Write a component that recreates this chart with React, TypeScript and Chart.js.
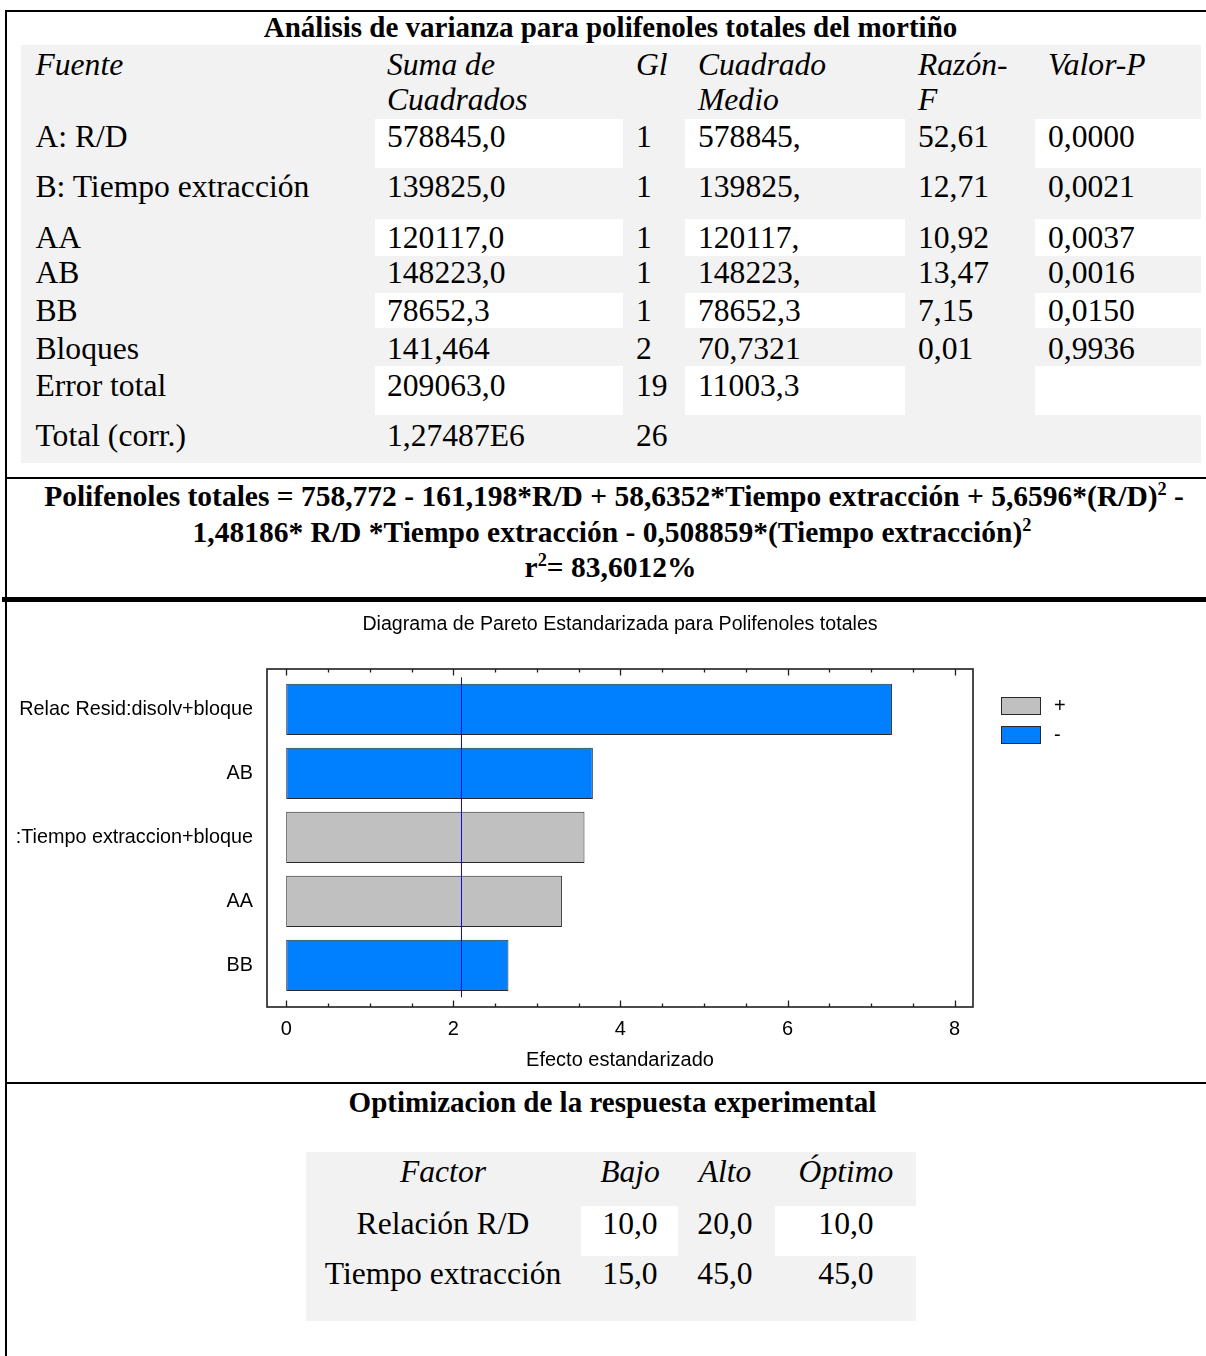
import React, { useEffect, useRef } from "react";
import { Chart, registerables } from "chart.js";

Chart.register(...registerables);

// ---------------- ANOVA table ----------------
const anovaTitle = "Análisis de varianza para polifenoles totales del mortiño";
const anovaHeadTop = ["Fuente", "Suma de", "Gl", "Cuadrado", "Razón-", "Valor-P"];
const anovaHeadBottom = ["", "Cuadrados", "", "Medio", "F", ""];
const anovaSources = ["A: R/D", "B: Tiempo extracción", "AA", "AB", "BB", "Bloques", "Error total", "Total (corr.)"];
const anovaSumSq = ["578845,0", "139825,0", "120117,0", "148223,0", "78652,3", "141,464", "209063,0", "1,27487E6"];
const anovaDf = ["1", "1", "1", "1", "1", "2", "19", "26"];
const anovaMeanSq = ["578845,", "139825,", "120117,", "148223,", "78652,3", "70,7321", "11003,3", ""];
const anovaFRatio = ["52,61", "12,71", "10,92", "13,47", "7,15", "0,01", "", ""];
const anovaPValue = ["0,0000", "0,0021", "0,0037", "0,0016", "0,0150", "0,9936", "", ""];

// ---------------- fitted model ----------------
const eqLine1 = "Polifenoles totales = 758,772 - 161,198*R/D + 58,6352*Tiempo extracción + 5,6596*(R/D)";
const eqLine1Tail = " -";
const eqLine2 = "1,48186* R/D *Tiempo extracción - 0,508859*(Tiempo extracción)";
const r2Symbol = "r";
const r2Text = "= 83,6012%";

// ---------------- Pareto chart ----------------
const paretoTitle = "Diagrama de Pareto Estandarizada para Polifenoles totales";
const paretoAxisTitle = "Efecto estandarizado";
const paretoTerms = ["Relac Resid:disolv+bloque", "AB", "B:Tiempo extraccion+bloque", "AA", "BB"];
const paretoEffects = [7.25, 3.67, 3.57, 3.3, 2.66];
const paretoSigns = ["-", "-", "+", "+", "-"];
const criticalEffect = 2.093;
const legendSigns = ["+", "-"];
const xMajorTicks = [0, 2, 4, 6, 8];
const xAllTicks = [0, 0.5, 1, 1.5, 2, 2.5, 3, 3.5, 4, 4.5, 5, 5.5, 6, 6.5, 7, 7.5, 8];
const signColors: Record<string, string> = { "+": "#c0c0c0", "-": "#0080ff" };

// ---------------- optimization table ----------------
const optTitle = "Optimizacion de la respuesta experimental";
const optHeader = ["Factor", "Bajo", "Alto", "Óptimo"];
const optFactors = ["Relación R/D", "Tiempo extracción"];
const optLow = ["10,0", "15,0"];
const optHigh = ["20,0", "45,0"];
const optOptimum = ["10,0", "45,0"];

// ---------------- layout (positions only) ----------------
const SERIF = '"Liberation Serif", "Times New Roman", Times, serif';
const SANS = '"Liberation Sans", Arial, Helvetica, sans-serif';
const BODY = 31.6;
const BOLD = 29;
const anovaColX = [35.5, 387, 636, 698, 918, 1048];
const anovaRowY = [137, 187, 238, 273, 311, 349, 386, 436];
const anovaWhiteRows = [[119, 168], [219, 256], [293, 328], [366, 415]];
const anovaWhiteCols = [[375, 623], [685, 905], [1035, 1201]];
const optColX = [443, 630, 725, 846];
const optRowY = [1224.5, 1274.5];
const optWhiteCols = [[581, 678], [774.5, 916]];
const CANVAS_LEFT = 17;
const CANVAS_TOP = 603;
const CANVAS_W = 1206 - CANVAS_LEFT;
const CANVAS_H = 477;
const PLOT_LEFT = 267; // page x
const PLOT_RIGHT = 973; // page x

type TxtProps = {
  x: number;
  y: number;
  size?: number;
  italic?: boolean;
  bold?: boolean;
  center?: boolean;
  children: React.ReactNode;
};

function Txt({ x, y, size = BODY, italic, bold, center, children }: TxtProps) {
  return (
    <div
      style={{
        position: "absolute",
        left: x,
        top: y - size * 0.5065,
        fontSize: size,
        lineHeight: `${size}px`,
        fontStyle: italic ? "italic" : "normal",
        fontWeight: bold ? 700 : 400,
        whiteSpace: "nowrap",
        transform: center ? "translateX(-50%)" : undefined,
      }}
    >
      {children}
    </div>
  );
}

function Sup({ children }: { children: React.ReactNode }) {
  return (
    <span style={{ fontSize: "0.62em", position: "relative", top: "-0.6em", lineHeight: 0 }}>{children}</span>
  );
}

function Box({ x, y, w, h, bg }: { x: number; y: number; w: number; h: number; bg: string }) {
  return <div style={{ position: "absolute", left: x, top: y, width: w, height: h, background: bg }} />;
}

const paretoDecor = {
  id: "paretoDecor",
  afterDatasetsDraw(chart: any) {
    const { ctx, chartArea: a, scales } = chart;
    const xs = scales.x;
    const ys = scales.y;
    ctx.save();
    // critical value line
    const cx = Math.round(xs.getPixelForValue(criticalEffect)) + 0.5;
    ctx.strokeStyle = "#0a0aff";
    ctx.lineWidth = 1;
    ctx.beginPath();
    ctx.moveTo(cx, ys.getPixelForValue(-0.5));
    ctx.lineTo(cx, ys.getPixelForValue(paretoTerms.length - 0.5));
    ctx.stroke();
    // frame
    ctx.strokeStyle = "#1e1e1e";
    ctx.lineWidth = 1.6;
    ctx.strokeRect(a.left, a.top, a.right - a.left, a.bottom - a.top);
    // inward tick marks, top and bottom
    ctx.lineWidth = 1.3;
    xs.ticks.forEach((t: any) => {
      const px = Math.round(xs.getPixelForValue(t.value)) + 0.5;
      const len = xMajorTicks.includes(t.value) ? 6.5 : 3.5;
      ctx.beginPath();
      ctx.moveTo(px, a.bottom);
      ctx.lineTo(px, a.bottom - len);
      ctx.moveTo(px, a.top);
      ctx.lineTo(px, a.top + len);
      ctx.stroke();
    });
    // legend
    const lx = a.right + 28;
    ctx.font = `20px ${SANS}`;
    ctx.textBaseline = "middle";
    ctx.textAlign = "left";
    legendSigns.forEach((s, i) => {
      const ly = a.top + 28 + i * 29;
      ctx.fillStyle = signColors[s];
      ctx.fillRect(lx, ly, 40, 18);
      ctx.strokeStyle = "#2a2a2a";
      ctx.lineWidth = 1;
      ctx.strokeRect(lx + 0.5, ly + 0.5, 39, 17);
      ctx.fillStyle = "#000";
      ctx.fillText(s, lx + 40 + 13, ly + 9.5);
    });
    ctx.restore();
  },
};

function ParetoChart() {
  const ref = useRef<HTMLCanvasElement | null>(null);
  useEffect(() => {
    if (!ref.current) return;
    const tickFont = { family: SANS, size: 20, weight: "normal" as const };
    const chart = new Chart(ref.current, {
      type: "bar",
      data: {
        datasets: [
          {
            data: paretoTerms.map((_, i) => ({ x: paretoEffects[i], y: i })),
            backgroundColor: paretoSigns.map((s) => signColors[s]),
            borderColor: "#2a2a2a",
            borderWidth: 1,
            borderSkipped: false,
            barPercentage: 0.8,
            categoryPercentage: 1,
          },
        ],
      },
      options: {
        indexAxis: "y",
        animation: false,
        responsive: false,
        maintainAspectRatio: false,
        events: [],
        layout: { padding: { left: 0, right: CANVAS_W - (PLOT_RIGHT - CANVAS_LEFT), top: 0, bottom: 0 } },
        plugins: {
          legend: { display: false },
          tooltip: { enabled: false },
          title: {
            display: true,
            text: paretoTitle,
            fullSize: false,
            color: "#000",
            font: { family: SANS, size: 19.6, weight: "normal" },
            padding: { top: 10.24, bottom: 32.24 },
          },
        },
        scales: {
          x: {
            type: "linear",
            position: "bottom",
            bounds: "data",
            min: -0.23,
            max: 8.22,
            offset: false,
            grid: { display: false, drawTicks: false, tickLength: 0 },
            border: { display: false },
            afterBuildTicks: (s: any) => {
              s.ticks = xAllTicks.map((v) => ({ value: v }));
            },
            afterFit: (s: any) => {
              s.height = 73;
            },
            ticks: {
              autoSkip: false,
              maxRotation: 0,
              padding: 10,
              color: "#000",
              font: tickFont,
              callback: (v: any) => (xMajorTicks.includes(Number(v)) ? String(v) : ""),
            },
            title: {
              display: true,
              text: paretoAxisTitle,
              color: "#000",
              font: tickFont,
              padding: { top: 7, bottom: 8 },
            },
          },
          y: {
            type: "linear",
            position: "left",
            reverse: true,
            bounds: "data",
            min: -0.63,
            max: 4.65,
            offset: false,
            grid: { display: false, drawTicks: false, tickLength: 0 },
            border: { display: false },
            afterBuildTicks: (s: any) => {
              s.ticks = paretoTerms.map((_, i) => ({ value: i }));
            },
            afterFit: (s: any) => {
              s.width = PLOT_LEFT - CANVAS_LEFT;
            },
            ticks: {
              autoSkip: false,
              padding: 14,
              color: "#000",
              font: { family: SANS, size: 19.8, weight: "normal" },
              callback: (v: any) => paretoTerms[Number(v)] ?? "",
            },
          },
        },
      } as any,
      plugins: [paretoDecor],
    });
    return () => chart.destroy();
  }, []);
  return (
    <canvas
      ref={ref}
      width={CANVAS_W}
      height={CANVAS_H}
      style={{ position: "absolute", left: CANVAS_LEFT, top: CANVAS_TOP, width: CANVAS_W, height: CANVAS_H, display: "block" }}
    />
  );
}

export default function App() {
  return (
    <div
      style={{
        position: "absolute",
        left: 0,
        top: 0,
        width: 1206,
        height: 1356,
        overflow: "hidden",
        background: "#fff",
        color: "#000",
        fontFamily: SERIF,
      }}
    >
      {/* ANOVA table backgrounds */}
      <Box x={21} y={45} w={1180} h={418} bg="#f2f2f2" />
      {anovaWhiteRows.map(([y0, y1], r) =>
        anovaWhiteCols.map(([x0, x1], c) => <Box key={`w${r}-${c}`} x={x0} y={y0} w={x1 - x0} h={y1 - y0} bg="#fff" />)
      )}

      {/* optimization table backgrounds */}
      <Box x={306} y={1152} w={610} h={169} bg="#f2f2f2" />
      {optWhiteCols.map(([x0, x1], c) => (
        <Box key={`ow${c}`} x={x0} y={1206} w={x1 - x0} h={50} bg="#fff" />
      ))}

      {/* frame lines */}
      <Box x={5} y={10} w={1201} h={2} bg="#000" />
      <Box x={5} y={10} w={2} h={1346} bg="#000" />
      <Box x={5} y={477} w={1201} h={2} bg="#000" />
      <Box x={2} y={597} w={1204} h={4.5} bg="#000" />
      <Box x={5} y={1082} w={1201} h={2.2} bg="#000" />

      {/* ANOVA */}
      <Txt x={610.5} y={28} size={BOLD} bold center>
        {anovaTitle}
      </Txt>
      {anovaHeadTop.map((h, i) => (
        <Txt key={`ht${i}`} x={anovaColX[i]} y={65} italic>
          {h}
        </Txt>
      ))}
      {anovaHeadBottom.map((h, i) =>
        h ? (
          <Txt key={`hb${i}`} x={anovaColX[i]} y={100} italic>
            {h}
          </Txt>
        ) : null
      )}
      {anovaSources.map((s, r) => {
        const cells = [s, anovaSumSq[r], anovaDf[r], anovaMeanSq[r], anovaFRatio[r], anovaPValue[r]];
        return cells.map((c, i) =>
          c ? (
            <Txt key={`c${r}-${i}`} x={anovaColX[i]} y={anovaRowY[r]}>
              {c}
            </Txt>
          ) : null
        );
      })}

      {/* Model equation */}
      <Txt x={614} y={496.5} size={29.5} bold center>
        {eqLine1}
        <Sup>2</Sup>
        {eqLine1Tail}
      </Txt>
      <Txt x={612} y={532.5} size={29.5} bold center>
        {eqLine2}
        <Sup>2</Sup>
      </Txt>
      <Txt x={610.5} y={567.5} size={29.5} bold center>
        {r2Symbol}
        <Sup>2</Sup>
        {r2Text}
      </Txt>

      {/* Pareto chart */}
      <ParetoChart />

      {/* Optimization */}
      <Txt x={612.5} y={1102.5} size={BOLD} bold center>
        {optTitle}
      </Txt>
      {optHeader.map((h, i) => (
        <Txt key={`oh${i}`} x={optColX[i]} y={1172} italic center>
          {h}
        </Txt>
      ))}
      {optFactors.map((f, r) => {
        const cells = [f, optLow[r], optHigh[r], optOptimum[r]];
        return cells.map((c, i) => (
          <Txt key={`oc${r}-${i}`} x={optColX[i]} y={optRowY[r]} center>
            {c}
          </Txt>
        ));
      })}
    </div>
  );
}
